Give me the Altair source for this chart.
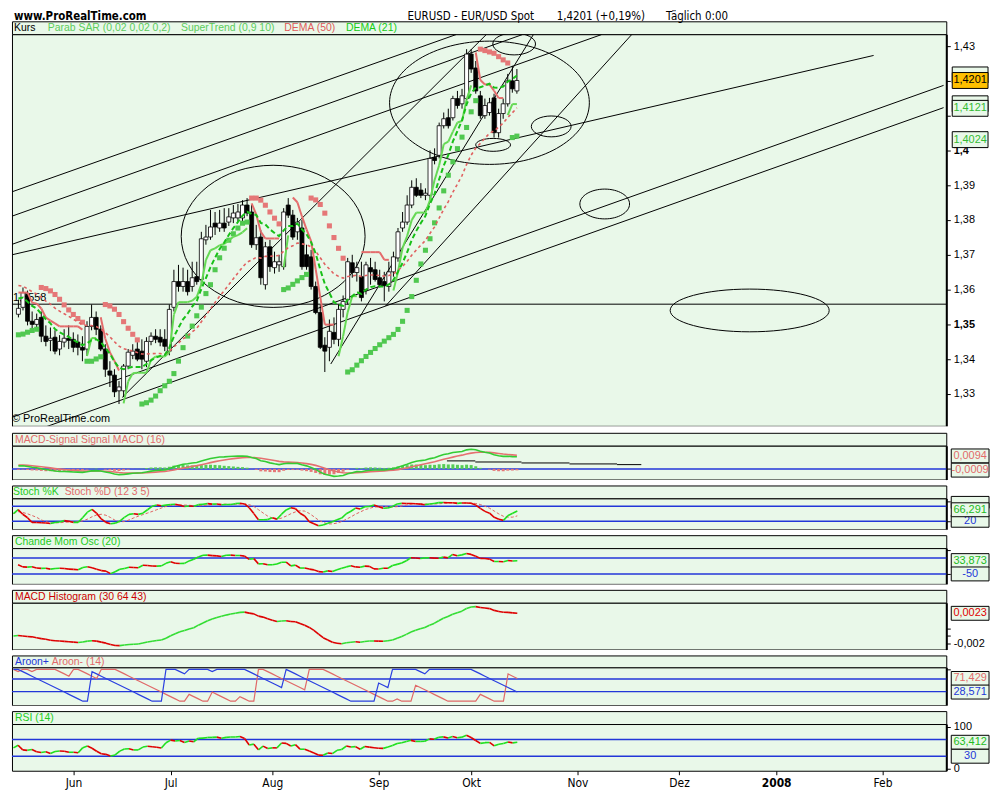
import altair as alt
import pandas as pd
import numpy as np

FONT = "Liberation Sans"
NARROW = "Liberation Sans Narrow, DejaVu Sans Condensed, Liberation Sans, sans-serif"
BG = "#e9f8e9"
BLUE = "#2236d8"
UPC = "#1fe01f"
DNC = "#e00000"
PINK = "#e26a6a"
W = 940

# ---------------- price data: daily candles 14 May 2007 .. 12 Oct 2007 ----------------
open_ = [1.3529, 1.3549, 1.3586, 1.3509, 1.3500, 1.3520, 1.3466, 1.3454, 1.3463, 1.3429,
         1.3449, 1.3460, 1.3457, 1.3449, 1.3434, 1.3429, 1.3494, 1.3520, 1.3486, 1.3429,
         1.3366, 1.3354, 1.3309, 1.3309, 1.3380, 1.3411, 1.3429, 1.3423, 1.3394, 1.3451,
         1.3466, 1.3463, 1.3457, 1.3423, 1.3549, 1.3623, 1.3609, 1.3623, 1.3609, 1.3637,
         1.3629, 1.3743, 1.3751, 1.3791, 1.3777, 1.3791, 1.3794, 1.3806, 1.3806, 1.3806,
         1.3843, 1.3823, 1.3729, 1.3751, 1.3614, 1.3723, 1.3663, 1.3671, 1.3666, 1.3843,
         1.3814, 1.3766, 1.3777, 1.3700, 1.3694, 1.3609, 1.3534, 1.3440, 1.3434, 1.3477,
         1.3457, 1.3543, 1.3571, 1.3677, 1.3649, 1.3637, 1.3600, 1.3663, 1.3657, 1.3634,
         1.3623, 1.3609, 1.3651, 1.3691, 1.3777, 1.3794, 1.3843, 1.3894, 1.3886, 1.3871,
         1.3871, 1.3980, 1.3986, 1.4071, 1.4094, 1.4094, 1.4149, 1.4134, 1.4149, 1.4277,
         1.4237, 1.4157, 1.4100, 1.4109, 1.4151, 1.4051, 1.4106, 1.4134, 1.4200, 1.4171]
high_ = [1.3571, 1.3606, 1.3597, 1.3537, 1.3531, 1.3537, 1.3497, 1.3491, 1.3483, 1.3469,
         1.3486, 1.3497, 1.3477, 1.3471, 1.3466, 1.3509, 1.3557, 1.3537, 1.3497, 1.3443,
         1.3394, 1.3371, 1.3337, 1.3386, 1.3429, 1.3443, 1.3449, 1.3457, 1.3463, 1.3477,
         1.3486, 1.3486, 1.3486, 1.3557, 1.3657, 1.3671, 1.3663, 1.3657, 1.3680, 1.3680,
         1.3766, 1.3786, 1.3829, 1.3823, 1.3829, 1.3834, 1.3834, 1.3843, 1.3846, 1.3857,
         1.3863, 1.3843, 1.3786, 1.3771, 1.3737, 1.3743, 1.3709, 1.3700, 1.3834, 1.3863,
         1.3829, 1.3806, 1.3800, 1.3729, 1.3714, 1.3623, 1.3557, 1.3463, 1.3514, 1.3520,
         1.3557, 1.3583, 1.3691, 1.3700, 1.3680, 1.3680, 1.3680, 1.3691, 1.3680, 1.3657,
         1.3651, 1.3680, 1.3709, 1.3777, 1.3823, 1.3871, 1.3914, 1.3920, 1.3906, 1.3891,
         1.4000, 1.4006, 1.4080, 1.4109, 1.4120, 1.4157, 1.4171, 1.4177, 1.4291, 1.4291,
         1.4257, 1.4171, 1.4149, 1.4151, 1.4163, 1.4120, 1.4149, 1.4220, 1.4243, 1.4234]
low_ = [1.3520, 1.3540, 1.3497, 1.3486, 1.3489, 1.3449, 1.3437, 1.3423, 1.3414, 1.3411,
        1.3434, 1.3429, 1.3420, 1.3411, 1.3394, 1.3409, 1.3483, 1.3469, 1.3423, 1.3349,
        1.3320, 1.3291, 1.3271, 1.3291, 1.3371, 1.3400, 1.3394, 1.3371, 1.3377, 1.3440,
        1.3446, 1.3437, 1.3423, 1.3411, 1.3537, 1.3594, 1.3594, 1.3583, 1.3594, 1.3614,
        1.3614, 1.3729, 1.3743, 1.3757, 1.3766, 1.3766, 1.3783, 1.3791, 1.3794, 1.3797,
        1.3811, 1.3720, 1.3714, 1.3614, 1.3600, 1.3651, 1.3646, 1.3651, 1.3657, 1.3806,
        1.3743, 1.3743, 1.3657, 1.3657, 1.3600, 1.3529, 1.3429, 1.3363, 1.3394, 1.3443,
        1.3437, 1.3520, 1.3557, 1.3634, 1.3623, 1.3566, 1.3586, 1.3614, 1.3623, 1.3606,
        1.3566, 1.3594, 1.3637, 1.3680, 1.3766, 1.3786, 1.3834, 1.3866, 1.3863, 1.3857,
        1.3857, 1.3960, 1.3977, 1.4063, 1.4063, 1.4086, 1.4120, 1.4120, 1.4143, 1.4223,
        1.4163, 1.4091, 1.4091, 1.4100, 1.4037, 1.4037, 1.4091, 1.4126, 1.4166, 1.4163]
close_ = [1.3546, 1.3591, 1.3509, 1.3500, 1.3514, 1.3466, 1.3451, 1.3460, 1.3423, 1.3451,
          1.3460, 1.3454, 1.3434, 1.3434, 1.3426, 1.3494, 1.3520, 1.3486, 1.3429, 1.3371,
          1.3354, 1.3306, 1.3320, 1.3380, 1.3420, 1.3423, 1.3400, 1.3400, 1.3451, 1.3466,
          1.3457, 1.3449, 1.3437, 1.3543, 1.3623, 1.3609, 1.3623, 1.3594, 1.3634, 1.3623,
          1.3746, 1.3751, 1.3780, 1.3780, 1.3791, 1.3777, 1.3809, 1.3820, 1.3823, 1.3843,
          1.3820, 1.3729, 1.3749, 1.3634, 1.3723, 1.3666, 1.3680, 1.3680, 1.3823, 1.3814,
          1.3751, 1.3794, 1.3666, 1.3666, 1.3609, 1.3534, 1.3434, 1.3423, 1.3480, 1.3457,
          1.3543, 1.3566, 1.3680, 1.3649, 1.3663, 1.3577, 1.3671, 1.3651, 1.3629, 1.3614,
          1.3611, 1.3651, 1.3694, 1.3766, 1.3794, 1.3843, 1.3894, 1.3871, 1.3871, 1.3877,
          1.3977, 1.3971, 1.4071, 1.4091, 1.4071, 1.4149, 1.4129, 1.4157, 1.4277, 1.4234,
          1.4171, 1.4100, 1.4129, 1.4137, 1.4051, 1.4106, 1.4134, 1.4200, 1.4177, 1.4201]
N = len(close_)
bar_idx = list(range(N))

# month boundaries (first trading day index) and their labels
month_idx = [14, 35, 57, 80, 100, 123, 145, 166, 189]
month_lbl = ["Jun", "Jul", "Aug", "Sep", "Okt", "Nov", "Dez", "2008", "Feb"]
price_ticks = [1.33, 1.34, 1.35, 1.36, 1.37, 1.38, 1.39, 1.4, 1.41, 1.42, 1.43]
hline_level = [1.3558]
hline_text = ["1,3558"]

# user-drawn trend lines: start (bar index, price) -> end (bar index, price)
tl_i0 = [-1.4, -1.4, -1.4, -1.4, -1.4, 5.7, 22.7, 80.3, 68.3]
tl_p0 = [1.3881, 1.3811, 1.3730, 1.3700, 1.3233, 1.3204, 1.3290, 1.3553, 1.3386]
tl_i1 = [95.7, 110.2, 127.5, 187.0, 202.3, 202.3, 102.3, 134.1, 112.6]
tl_p1 = [1.4333, 1.4333, 1.4333, 1.4273, 1.4187, 1.4123, 1.4333, 1.4333, 1.4333]
# user-drawn ellipses: centre (bar index, price)
el_i = [55.7, 103.0, 108.4, 116.5, 103.8, 128.2, 159.9]
el_p = [1.3753, 1.4137, 1.4306, 1.4069, 1.4016, 1.3846, 1.3540]
el_w = [185, 201, 43, 40, 35, 50, 160]
el_h = [143, 124, 22, 21, 13, 30, 43]

# last-value tags on the right (tag centre level, tag text)
main_tag_val = [1.4201, 1.4121, 1.4031]
main_tag_txt = ["1,4201", "1,4121", "1,4024"]
main_back_val = [1.4217, 1.4134]
macd_tag_val = [0.0094, -0.0009]
macd_tag_txt = ["0,0094", "-0,0009"]
macd_proj_i0 = [93.7, 99.9, 110.0, 120.5, 130.9]
macd_proj_i1 = [99.9, 110.0, 120.5, 130.9, 136.2]
macd_proj_v = [0.0058, 0.0050, 0.0043, 0.0036, 0.0031]
stoch_tag_val = [66.291]
stoch_tag_txt = ["66,291"]
cmo_tag_val = [33.873, -50]
cmo_tag_txt = ["33,873", "-50"]
hist_tag_txt = ["0,0023"]
aroon_tag_val = [71.429, 28.571]
aroon_tag_txt = ["71,429", "28,571"]
rsi_tag_val = [63.412, 30]
rsi_tag_txt = ["63,412", "30"]

# starting levels (indicator history before the first bar)
sar_start = 1.3470
dema50_start = 1.3617
dema21_start = 1.3580
macd_fast_start, macd_slow_start, macd_sig_start = 1.3560, 1.3535, 0.0030
cmo_prior = 0.03


# ---------------- indicators ----------------
def ema(x, n, seed):
    a = 2.0 / (n + 1)
    out, p = [], seed
    for v in x:
        p = p + a * (v - p)
        out.append(p)
    return out


def psar(h, l, seed, af0=0.02, step=0.02, amax=0.2):
    out, upl = [seed], [True]
    up, sar, ep, af = True, seed, h[0], af0
    for i in range(1, len(h)):
        sar = sar + af * (ep - sar)
        if up:
            sar = min(sar, l[i - 1], l[max(i - 2, 0)])
            if l[i] < sar:
                up, sar, ep, af = False, ep, l[i], af0
            elif h[i] > ep:
                ep, af = h[i], min(af + step, amax)
        else:
            sar = max(sar, h[i - 1], h[max(i - 2, 0)])
            if h[i] > sar:
                up, sar, ep, af = True, ep, h[i], af0
            elif l[i] < ep:
                ep, af = l[i], min(af + step, amax)
        out.append(sar)
        upl.append(up)
    return out, upl


def supertrend(h, l, c, mult, per):
    atr = h[0] - l[0]
    fu = fl = None
    trend = -1
    st, tr_l = [], []
    for i in range(len(c)):
        tr = h[i] - l[i] if i == 0 else max(h[i] - l[i], abs(h[i] - c[i - 1]), abs(l[i] - c[i - 1]))
        atr = (atr * (per - 1) + tr) / per
        mid = (h[i] + l[i]) / 2
        bu, bl = mid + mult * atr, mid - mult * atr
        if fu is None:
            fu, fl = bu, bl
        else:
            fu = bu if (bu < fu or c[i - 1] > fu) else fu
            fl = bl if (bl > fl or c[i - 1] < fl) else fl
        if trend == 1 and c[i] < fl:
            trend = -1
        elif trend == -1 and c[i] > fu:
            trend = 1
        st.append(fl if trend == 1 else fu)
        tr_l.append(trend)
    return st, tr_l


def dema(x, n, seed):
    e1 = ema(x, n, seed)
    e2 = ema(e1, n, seed)
    return [2 * a - b for a, b in zip(e1, e2)]


sar, sar_up = psar(high_, low_, sar_start)
st, st_tr = supertrend(high_, low_, close_, 0.9, 10)
d50 = dema(close_, 50, dema50_start)
d21 = dema(close_, 21, dema21_start)

e12 = ema(close_, 12, macd_fast_start)
e26 = ema(close_, 26, macd_slow_start)
macd = [a - b for a, b in zip(e12, e26)]
msig = ema(macd, 9, macd_sig_start)
mhist = [a - b for a, b in zip(macd, msig)]

e30 = ema(close_, 30, close_[0])
e64 = ema(close_, 64, close_[0])
m2 = [a - b for a, b in zip(e30, e64)]
s2 = ema(m2, 43, 0.0)
h2 = [a - b for a, b in zip(m2, s2)]

raw = []
for i in range(N):
    s = max(0, i - 11)
    hh, ll = max(high_[s:i + 1]), min(low_[s:i + 1])
    raw.append(100 * (close_[i] - ll) / (hh - ll) if hh > ll else 50)
stK = pd.Series(raw).rolling(3, min_periods=1).mean().tolist()
stD = pd.Series(stK).rolling(5, min_periods=1).mean().tolist()

cmo = [np.nan]
for i in range(1, N):
    d = np.diff(close_[max(0, i - 20):i + 1])
    missing = (20 - len(d)) / 20.0
    su = d[d > 0].sum() + cmo_prior * missing
    sd = -d[d < 0].sum() + cmo_prior * missing
    cmo.append(100 * (su - sd) / (su + sd))

ag = al = 0.0012
rsi = [50.0]
for i in range(1, N):
    ch = close_[i] - close_[i - 1]
    ag = (ag * 13 + max(ch, 0)) / 14
    al = (al * 13 + max(-ch, 0)) / 14
    rsi.append(100 - 100 / (1 + ag / al))

aup, adn = [], []
for i in range(N):
    s = max(0, i - 14)
    wh, wl = high_[s:i + 1], low_[s:i + 1]
    ph = s + max(range(len(wh)), key=lambda k: (wh[k], k))
    pl = s + min(range(len(wl)), key=lambda k: (wl[k], -k))
    aup.append(100 * (14 - (i - ph)) / 14)
    adn.append(100 * (14 - (i - pl)) / 14)


# ---------------- helpers ----------------
xs = alt.Scale(domain=[-0.32, 201.8], nice=False, zero=False)


def X(field, xax=None):
    return alt.X(field, scale=xs, axis=xax)


def segs(v, up=UPC, dn=DNC):
    rows = []
    for i in range(1, len(v)):
        if np.isnan(v[i - 1]) or np.isnan(v[i]):
            continue
        rows.append((i - 1, i, v[i - 1], v[i], up if v[i] >= v[i - 1] else dn))
    return pd.DataFrame(rows, columns=["x0", "x1", "y0", "y1", "c"])


def seg_chart(df, ys, yax, xax=None, width=1.6):
    return alt.Chart(df).mark_rule(strokeWidth=width).encode(
        x=X("x0:Q", xax), x2="x1",
        y=alt.Y("y0:Q", scale=ys, axis=yax), y2="y1",
        color=alt.Color("c:N", scale=None))


def levels(vals, ys, yax, color=BLUE, width=1.5):
    return alt.Chart(pd.DataFrame({"v": vals})).mark_rule(color=color, strokeWidth=width).encode(
        y=alt.Y("v:Q", scale=ys, axis=yax))


def tags(vals, texts, tcol, fill, ys, yax, w=38, h=14, cx=W + 24):
    df = pd.DataFrame({"v": vals, "t": texts, "tc": tcol, "f": fill})
    r = w / h
    path = f"M{-r:.3f},-1 L{r:.3f},-1 L{r:.3f},1 L{-r:.3f},1 Z"
    box = alt.Chart(df).mark_point(shape=path, size=h * h, filled=True, stroke="black",
                                   strokeWidth=1, opacity=1).encode(
        x=alt.value(cx), y=alt.Y("v:Q", scale=ys, axis=yax), fill=alt.Fill("f:N", scale=None))
    txt = alt.Chart(df).mark_text(font=FONT, fontSize=11, align="center", baseline="middle").encode(
        x=alt.value(cx), y=alt.Y("v:Q", scale=ys, axis=yax), text="t:N",
        color=alt.Color("tc:N", scale=None))
    return [box, txt]


def right_axis(values, label_expr="''", weight=None):
    kw = dict(orient="right", values=values, labelExpr=label_expr, tickSize=4,
              tickColor="black", domainColor="black", domainWidth=2, labelColor="black",
              labelFont=FONT, labelFontSize=11, labelPadding=3, grid=False, title=None)
    if weight:
        kw["labelFontWeight"] = weight
    return alt.Axis(**kw)


def header(texts, xpos, colors, h, extra=None):
    df = pd.DataFrame({"t": texts, "x": xpos, "c": colors})
    base = alt.Chart(df).mark_text(align="left", baseline="middle", font=FONT, fontSize=10.5).encode(
        x=alt.X("x:Q", scale=None), y=alt.value(h / 2 + 0.5), text="t:N",
        color=alt.Color("c:N", scale=None))
    return alt.layer(base, *(extra or [])).properties(width=W, height=h)


def gap(h):
    return alt.Chart(pd.DataFrame({"a": [0]})).mark_point(opacity=0).encode(
        x=alt.value(0), y=alt.value(0)).properties(
        width=W, height=h, view=alt.ViewBackground(stroke="transparent", fill="white"))


# ---------------- main price panel ----------------
MH = 394
ys_main = alt.Scale(domain=[1.4334 - MH / 3500, 1.4334], nice=False, zero=False)
yax_main = right_axis(
    price_ticks,
    "datum.value > 1.405 && datum.value < 1.425 ? '' : replace(format(datum.value, '.3~g'), '.', ',')",
    {"condition": {"test": "datum.value == 1.35 || datum.value == 1.4", "value": "bold"},
     "value": "normal"})

candles = pd.DataFrame({"i": bar_idx, "o": open_, "h": high_, "l": low_, "c": close_})
candles["fill"] = np.where(candles["c"] >= candles["o"], "white", "black")

hline = levels(hline_level, ys_main, yax_main, color="black", width=1)
hline_lbl = alt.Chart(pd.DataFrame({"v": hline_level, "t": hline_text})).mark_text(
    align="left", baseline="bottom", dx=1, dy=-1, font=FONT, fontSize=11).encode(
    x=alt.value(0), y=alt.Y("v:Q", scale=ys_main, axis=yax_main), text="t:N")

tl = pd.DataFrame({"x0": tl_i0, "y0": tl_p0, "x1": tl_i1, "y1": tl_p1})
trend = alt.Chart(tl).mark_rule(color="black", strokeWidth=1, clip=True).encode(
    x=X("x0:Q"), x2="x1", y=alt.Y("y0:Q", scale=ys_main, axis=yax_main), y2="y1")


def ellipse_path(r):
    k = 0.5523
    return (f"M-1,0 C-1,{-k*r:.4f} {-k},{-r:.4f} 0,{-r:.4f} C{k},{-r:.4f} 1,{-k*r:.4f} 1,0 "
            f"C1,{k*r:.4f} {k},{r:.4f} 0,{r:.4f} C{-k},{r:.4f} -1,{k*r:.4f} -1,0 Z")


el = pd.DataFrame({"i": el_i, "p": el_p,
                   "shape": [ellipse_path(h / w) for w, h in zip(el_w, el_h)],
                   "sz": [w * w for w in el_w]})
ellipses = alt.Chart(el).mark_point(filled=False, color="black", strokeWidth=1, opacity=1,
                                    clip=True).encode(
    x=X("i:Q"), y=alt.Y("p:Q", scale=ys_main, axis=yax_main),
    shape=alt.Shape("shape:N", scale=None), size=alt.Size("sz:Q", scale=None))

wicks = alt.Chart(candles).mark_rule(color="black", strokeWidth=1).encode(
    x=X("i:Q"), y=alt.Y("l:Q", scale=ys_main, axis=yax_main), y2="h")
bodies = alt.Chart(candles).mark_bar(size=4, stroke="black", strokeWidth=0.8).encode(
    x=X("i:Q"), y=alt.Y("o:Q", scale=ys_main, axis=yax_main), y2="c",
    fill=alt.Fill("fill:N", scale=None))

sar_df = pd.DataFrame({"i": bar_idx, "v": sar,
                       "c": ["#50c850" if s < c else "#e57777" for s, c in zip(sar, close_)]})
sar_pts = alt.Chart(sar_df).mark_square(size=26, opacity=1).encode(
    x=X("i:Q"), y=alt.Y("v:Q", scale=ys_main, axis=yax_main), color=alt.Color("c:N", scale=None))

st_rows = [(i - 1, i, st[i - 1], st[i], "#66d955" if st_tr[i] == 1 else "#e46c6c")
           for i in range(1, N) if st_tr[i] == st_tr[i - 1]]
st_ch = seg_chart(pd.DataFrame(st_rows, columns=["x0", "x1", "y0", "y1", "c"]), ys_main, yax_main,
                  width=2)

dema_df = pd.DataFrame({"i": bar_idx, "d50": d50, "d21": d21})
d50_ch = alt.Chart(dema_df).mark_line(color="#e06060", strokeWidth=1.6, strokeDash=[3, 3]).encode(
    x=X("i:Q"), y=alt.Y("d50:Q", scale=ys_main, axis=yax_main))
d21_ch = alt.Chart(dema_df).mark_line(color="#18c018", strokeWidth=2, strokeDash=[5, 3]).encode(
    x=X("i:Q"), y=alt.Y("d21:Q", scale=ys_main, axis=yax_main))

copy = alt.Chart(pd.DataFrame({"t": ["\u00a9 ProRealTime.com"]})).mark_text(
    align="left", baseline="middle", font=FONT, fontSize=11).encode(
    x=alt.value(0), y=alt.value(MH - 7), text="t:N")

back = tags(main_back_val, ["", ""], ["black", "black"], [BG, BG], ys_main, yax_main, w=36, h=16)
front = tags(main_tag_val, main_tag_txt, ["black", "#33bb33", "#33bb33"],
             ["#ffc000", BG, BG], ys_main, yax_main, w=36, h=16)

main_body = alt.layer(hline, trend, ellipses, hline_lbl, wicks, bodies, sar_pts, st_ch,
                      d50_ch, d21_ch, copy, *back, *front).properties(width=W, height=MH)

title_bold = alt.Chart(pd.DataFrame({"t": ["www.ProRealTime.com"], "x": [2]})).mark_text(
    align="left", baseline="middle", font=NARROW, fontSize=11.5, fontWeight="bold").encode(
    x=alt.X("x:Q", scale=None), y=alt.value(-4), text="t:N")
title_reg = alt.Chart(pd.DataFrame({"t": ["EURUSD - EUR/USD Spot", "1,4201 (+0,19%)", "T\u00e4glich  0:00"],
                                    "x": [398, 548, 658]})).mark_text(
    align="left", baseline="middle", font=NARROW, fontSize=11.5).encode(
    x=alt.X("x:Q", scale=None), y=alt.value(-4), text="t:N")
main_hdr = header(["Kurs", "Parab SAR (0,02 0,02 0,2)", "SuperTrend (0,9 10)", "DEMA (50)", "DEMA (21)"],
                  [2, 36, 170, 274, 336],
                  ["black", "#5ccc5c", "#5ccc5c", "#e05a5a", "#16cc16"], 13, [title_bold, title_reg])

# ---------------- MACD ----------------
ys_macd = alt.Scale(domain=[-0.0077, 0.0168], nice=False, zero=False)
yax_macd = right_axis([0.0])
macd_df = pd.DataFrame({"i": bar_idx, "m": macd, "s": msig, "h": mhist,
                        "c": ["#55cc55" if v >= 0 else "#e57777" for v in mhist]})
macd_bars = alt.Chart(macd_df).mark_bar(size=3).encode(
    x=X("i:Q"), y=alt.Y("h:Q", scale=ys_macd, axis=yax_macd), color=alt.Color("c:N", scale=None))
macd_line = alt.Chart(macd_df).mark_line(color="#33cc33", strokeWidth=1.6).encode(
    x=X("i:Q"), y=alt.Y("m:Q", scale=ys_macd, axis=yax_macd))
sig_line = alt.Chart(macd_df).mark_line(color="#e57070", strokeWidth=1.6).encode(
    x=X("i:Q"), y=alt.Y("s:Q", scale=ys_macd, axis=yax_macd))
proj = alt.Chart(pd.DataFrame({"x0": macd_proj_i0, "x1": macd_proj_i1, "v": macd_proj_v})).mark_rule(
    color="black", strokeWidth=1).encode(
    x=X("x0:Q"), x2="x1", y=alt.Y("v:Q", scale=ys_macd, axis=yax_macd))
macd_body = alt.layer(levels([0], ys_macd, yax_macd), macd_bars, proj, sig_line, macd_line,
                      *tags(macd_tag_val, macd_tag_txt, [PINK, PINK], [BG, BG], ys_macd, yax_macd)
                      ).properties(width=W, height=34)
macd_hdr = header(["MACD-Signal Signal MACD (16)"], [3], [PINK], 13)

# ---------------- Stochastic ----------------
ys_st = alt.Scale(domain=[-12, 112], nice=False, zero=False)
yax_st = right_axis([100, 20])
stoch_df = pd.DataFrame({"i": bar_idx, "d": stD})
stD_line = alt.Chart(stoch_df).mark_line(color="#e06060", strokeWidth=1, strokeDash=[3, 2]).encode(
    x=X("i:Q"), y=alt.Y("d:Q", scale=ys_st, axis=yax_st))
stoch_body = alt.layer(levels([80, 20], ys_st, yax_st), stD_line,
                       seg_chart(segs(stK), ys_st, yax_st),
                       *tags([96, 20], ["", "20"], ["black", BLUE], [BG, BG], ys_st, yax_st, h=12),
                       *tags(stoch_tag_val, stoch_tag_txt, ["#22bb22"], [BG], ys_st, yax_st)
                       ).properties(width=W, height=31)
stoch_hdr = header(["Stoch %K", "Stoch %D (12 3 5)"], [1, 53], ["#22cc22", PINK], 13)

# ---------------- Chande momentum ----------------
ys_cmo = alt.Scale(domain=[-112.5, 112.5], nice=False, zero=False)
yax_cmo = right_axis([100, -50])
cmo_body = alt.layer(levels([50, -50], ys_cmo, yax_cmo),
                     seg_chart(segs(cmo), ys_cmo, yax_cmo),
                     *tags(cmo_tag_val, cmo_tag_txt, ["#22bb22", BLUE], [BG, BG], ys_cmo, yax_cmo)
                     ).properties(width=W, height=36)
cmo_hdr = header(["Chande Mom Osc (20)"], [3], ["#22cc22"], 13)

# ---------------- MACD histogram (30 64 43) ----------------
hmin, hmax = min(h2), max(h2)
pad = (hmax - hmin) * 0.1
ys_h = alt.Scale(domain=[hmin - pad, hmax + pad], nice=False, zero=False)
yax_h = right_axis([0.002, 0.0, -0.002], "datum.value < -0.001 ? '-0,002' : ''")
hist_body = alt.layer(
    levels([0.0], ys_h, yax_h, color="transparent"),
    seg_chart(segs(h2, "#33dd33", "#dd0000"), ys_h, yax_h),
    *tags([h2[-1]], hist_tag_txt, [DNC], [BG], ys_h, yax_h)
).properties(width=W, height=47)
hist_hdr = header(["MACD Histogram (30 64 43)"], [3], ["#cc0000"], 13)

# ---------------- Aroon ----------------
ys_ar = alt.Scale(domain=[-12.5, 106.25], nice=False, zero=False)
yax_ar = right_axis([100])
ar_df = pd.DataFrame({"i": bar_idx, "u": aup, "d": adn})
ar_up = alt.Chart(ar_df).mark_line(color="#2a3fe0", strokeWidth=1.2).encode(
    x=X("i:Q"), y=alt.Y("u:Q", scale=ys_ar, axis=yax_ar))
ar_dn = alt.Chart(ar_df).mark_line(color="#e06868", strokeWidth=1.2).encode(
    x=X("i:Q"), y=alt.Y("d:Q", scale=ys_ar, axis=yax_ar))
aroon_body = alt.layer(levels([70, 30], ys_ar, yax_ar), ar_dn, ar_up,
                       *tags(aroon_tag_val, aroon_tag_txt, [PINK, BLUE], [BG, BG], ys_ar, yax_ar)
                       ).properties(width=W, height=38)
aroon_hdr = header(["Aroon+", "Aroon- (14)"], [3, 40], [BLUE, PINK], 12)

# ---------------- RSI ----------------
ys_rsi = alt.Scale(domain=[-4.65, 107], nice=False, zero=False)
yax_rsi = right_axis([100, 0], "datum.value == 100 ? '100' : '0'")
# month ticks sit on the boundary just before the first bar of each month
month_tick = [m - 1.0 for m in month_idx]
lbl_expr = "".join(f"abs(datum.value - {t}) < 0.05 ? '{l}' : " for t, l in zip(month_tick, month_lbl)) + "''"
xax = alt.Axis(orient="bottom", values=month_tick, labelExpr=lbl_expr, tickSize=4,
               tickColor="black", domain=False, labelFont=NARROW, labelFontSize=12,
               labelColor="black", labelPadding=3, grid=False, title=None,
               labelFontWeight={"condition": {"test": f"abs(datum.value - {month_tick[7]}) < 0.05",
                                              "value": "bold"}, "value": "normal"})
rsi_axis_layer = alt.Chart(pd.DataFrame({"i": month_tick, "v": [50] * len(month_tick)})).mark_point(
    opacity=0).encode(x=X("i:Q", xax), y=alt.Y("v:Q", scale=ys_rsi, axis=yax_rsi))
rsi_body = alt.layer(rsi_axis_layer, levels([70, 30], ys_rsi, yax_rsi),
                     seg_chart(segs(rsi), ys_rsi, yax_rsi, xax),
                     *tags(rsi_tag_val, rsi_tag_txt, ["#22bb22", BLUE], [BG, BG], ys_rsi, yax_rsi)
                     ).properties(width=W, height=47)
rsi_hdr = header(["RSI (14)"], [3], ["#22cc22"], 13)

chart = alt.vconcat(
    main_hdr, main_body, gap(7),
    macd_hdr, macd_body, gap(6),
    stoch_hdr, stoch_body, gap(6),
    cmo_hdr, cmo_body, gap(6),
    hist_hdr, hist_body, gap(6),
    aroon_hdr, aroon_body, gap(6),
    rsi_hdr, rsi_body,
    spacing=0, bounds="flush"
).properties(padding=0, background="white").configure_view(
    fill=BG, stroke="black", strokeWidth=1
)

chart.save("out.html", embed_options={"renderer": "svg", "actions": False})
